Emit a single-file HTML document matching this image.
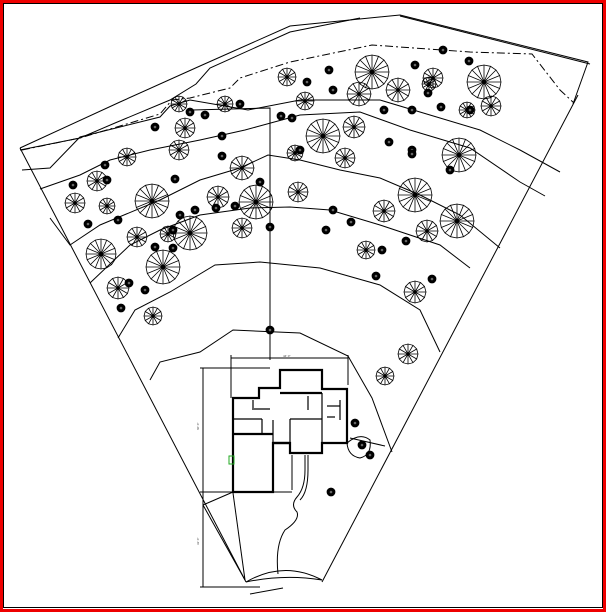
<!DOCTYPE html>
<html><head><meta charset="utf-8">
<style>
html,body{margin:0;padding:0;background:#fff}
svg{display:block}
text{font-family:"Liberation Sans",sans-serif}
</style></head>
<body>
<svg id="s" width="606" height="613" viewBox="0 0 606 613" xmlns="http://www.w3.org/2000/svg">
<rect x="0" y="0" width="606" height="613" fill="#fff"/>
<rect x="1.5" y="1.5" width="603" height="609" fill="none" stroke="#e00" stroke-width="3"/>
<rect x="3.5" y="3.5" width="599" height="604" fill="none" stroke="#000" stroke-width="1"/>
<g fill="none" stroke="#000" stroke-width="1">
<polyline points="20,148 120,102 200,66 290,26 400,15 588,62 573,104"/>
<line x1="20" y1="148" x2="246" y2="582"/>
<line x1="578" y1="95" x2="322" y2="582"/>
<path d="M246,582 Q284,560 322,580"/>
<path d="M246,582 Q284,574 322,580"/>
<polyline points="20,150 80,138 115,123 170,100 196,84 210,68 290,32 360,18"/>
<polyline points="400,16 590,64" />
<polyline stroke-dasharray="8,3,2,3" points="22,150 80,138 160,114 172,100 190,98 230,88 240,78 290,62 372,45 470,52 532,54 560,90 574,103"/>
<polyline points="22,170 50,168 80,137 160,117 170,106 190,100 248,110 300,100 380,100 430,115 480,130 520,150 560,172"/>
<polyline points="40,189 80,175 110,160 150,150 200,140 245,130 300,115 360,112 410,130 470,148 520,182 545,196"/>
<polyline points="50,218 70,245 100,225 160,200 200,180 240,168 268,155 300,160 340,170 380,178 420,195 460,215 500,248"/>
<polyline points="90,283 130,245 160,230 200,215 250,208 290,207 330,210 380,225 440,245 470,268"/>
<polyline points="118,338 135,310 170,292 215,265 260,262 320,268 380,285 420,310 440,352"/>
<polyline points="150,380 160,362 200,352 233,330 300,333 348,356 372,398 392,452"/>
<polyline points="192,110 270,108 270,360"/>
<line x1="231" y1="358" x2="348" y2="358"/>
<line x1="231" y1="355" x2="231" y2="398"/>
<line x1="348" y1="355" x2="348" y2="385"/>
<line x1="203" y1="368" x2="203" y2="587"/>
<line x1="200" y1="368" x2="270" y2="368"/>
<line x1="200" y1="492" x2="233" y2="492"/>
<line x1="200" y1="587" x2="260" y2="587"/>
<line x1="203" y1="505" x2="233" y2="492"/>
<line x1="203" y1="505" x2="245" y2="580"/>
<line x1="233" y1="493" x2="245" y2="580"/>
<line x1="250" y1="594" x2="283" y2="588"/>
<line x1="350" y1="438" x2="385" y2="446"/>
<path d="M292,455 L292,490"/>
<path d="M305,455 L305,470 Q305,488 297,497 Q290,505 297,512 Q300,520 285,530 Q275,545 278,574"/>
<path d="M308,455 L308,470 Q308,492 300,500"/>
<path d="M273,455 L273,492 L292,492"/>
<path d="M347,443 Q360,432 370,440 Q372,455 360,458 Q348,456 347,443"/>
</g>
<g fill="none" stroke="#000" stroke-width="2.2">
<polygon points="233,398 259,398 259,388 280,388 280,370 322,370 322,389 347,389 347,443 322,443 322,453 290,453 290,443 273,443 273,492 233,492"/>
<line x1="233" y1="434" x2="273" y2="434"/>
<line x1="280" y1="393" x2="322" y2="393"/>
<line x1="273" y1="443" x2="290" y2="443"/>
</g>
<g fill="none" stroke="#000" stroke-width="1.2">
<line x1="322" y1="393" x2="322" y2="443"/>
<line x1="290" y1="419" x2="322" y2="419"/>
<line x1="290" y1="419" x2="290" y2="443"/>
<line x1="273" y1="420" x2="273" y2="443"/>
<line x1="252" y1="409" x2="270" y2="409"/>
<line x1="233" y1="419" x2="262" y2="419"/>
<line x1="262" y1="419" x2="262" y2="434"/>
<line x1="253" y1="400" x2="253" y2="408"/>
<line x1="327" y1="406" x2="340" y2="406"/>
<line x1="327" y1="417" x2="335" y2="417"/>
<line x1="340" y1="400" x2="340" y2="420"/>
<line x1="308" y1="396" x2="308" y2="410"/>
</g>
<rect x="229" y="456" width="5" height="8" fill="none" stroke="#2a2" stroke-width="1"/>
<g font-size="3" fill="#444">
<text x="283" y="357">44' 0"</text>
<text x="199" y="430" transform="rotate(-90 199 430)">60' 0"</text>
<text x="199" y="545" transform="rotate(-90 199 545)">32' 0"</text>
</g>
<g id="trees" fill="none" stroke="#000" stroke-width="0.8"></g>
</svg>
<script>
var big=[[372,72,17],[398,90,12],[433,78,10],[484,82,17],[491,106,10],[287,77,9],[225,104,8],[185,128,10],[179,150,10],[127,157,9],[97,181,10],[75,203,10],[152,201,17],[107,206,8],[256,202,17],[218,197,11],[190,233,17],[163,267,17],[137,237,10],[101,254,15],[118,288,11],[153,316,9],[242,168,12],[298,192,10],[323,136,17],[354,127,11],[345,158,10],[359,94,12],[415,195,17],[459,155,17],[457,221,17],[384,211,11],[427,231,11],[366,250,9],[415,292,11],[408,354,10],[385,376,9],[305,101,9],[242,228,10],[168,234,8],[467,110,8],[429,84,7],[295,153,8],[179,104,8]];
var dots=[[329,70],[415,65],[443,50],[469,61],[333,90],[307,82],[428,93],[412,110],[441,107],[470,110],[384,110],[389,142],[412,150],[450,170],[190,112],[205,115],[240,104],[155,127],[222,136],[105,165],[73,185],[107,180],[222,156],[300,150],[235,206],[260,182],[333,210],[270,227],[195,210],[175,179],[173,230],[180,215],[118,220],[155,247],[145,290],[121,308],[129,283],[173,248],[88,224],[216,208],[326,230],[351,222],[406,241],[382,250],[432,279],[376,276],[331,492],[355,423],[281,116],[292,118],[412,154],[270,330],[370,455],[362,445]];
var g=document.getElementById('trees'),h='';
big.forEach(function(t){var x=t[0],y=t[1],r=t[2],n=r>12?16:12,p='';
for(var i=0;i<n;i++){var a=i*2*Math.PI/n;p+=(i?'L':'M')+(x+r*Math.cos(a)).toFixed(1)+','+(y+r*Math.sin(a)).toFixed(1);}
h+='<path d="'+p+'Z"/>';var q='';
for(var i=0;i<n;i++){var a=i*2*Math.PI/n;q+='M'+x+','+y+'L'+(x+r*Math.cos(a)).toFixed(1)+','+(y+r*Math.sin(a)).toFixed(1);}
h+='<path d="'+q+'"/>';});
dots.forEach(function(d){h+='<circle cx="'+d[0]+'" cy="'+d[1]+'" r="4" fill="#000"/><circle cx="'+d[0]+'" cy="'+d[1]+'" r="1.3" fill="#666" stroke="none"/>';});
g.innerHTML=h;
</script>
</body></html>
